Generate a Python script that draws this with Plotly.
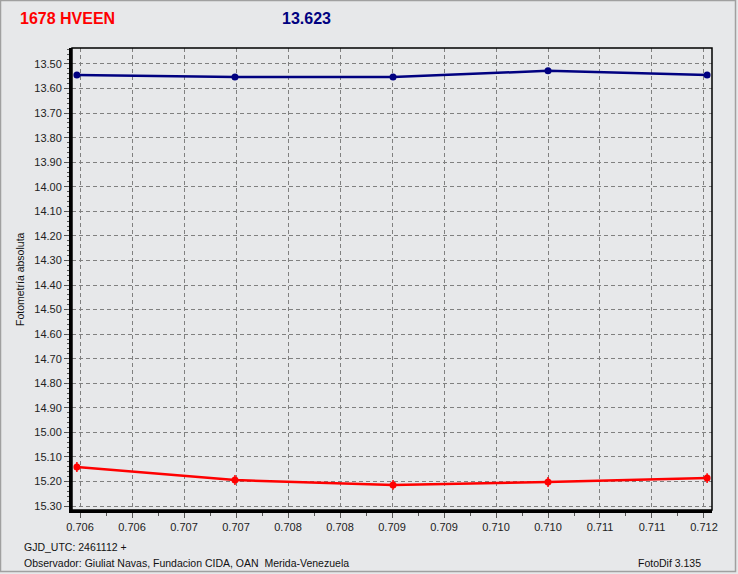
import plotly.graph_objects as go

# ---- data ----
gjd_offsets = [0.70577, 0.70729, 0.70881, 0.71030, 0.71183]
blue_mag = [13.545, 13.553, 13.553, 13.528, 13.545]
blue_err = [0.008, 0.008, 0.008, 0.008, 0.008]
red_mag = [15.141, 15.194, 15.214, 15.202, 15.186]
red_err = [0.02, 0.02, 0.02, 0.02, 0.02]
x_tickvals = [0.70580 + 0.0005 * i for i in range(13)]
x_ticktext = [f"{v:.3f}" for v in x_tickvals]
x_minorvals = [0.70580 + 0.00025 * (2 * i + 1) for i in range(12)]
y_tickvals = [round(13.5 + 0.1 * i, 2) for i in range(19)]
y_ticktext = [f"{v:.2f}" for v in y_tickvals]
y_minorvals = [round(13.44 + 0.02 * i, 2) for i in range(94)]

title_star = "1678 HVEEN"
title_mag = "13.623"
y_title = "Fotometría absoluta"
footer_gjd = "GJD_UTC: 2461112 +"
footer_obs = "Observador: Giuliat Navas, Fundacion CIDA, OAN  Merida-Venezuela"
footer_ver = "FotoDif 3.135"

W, H = 738, 574
L, R, T, B = 72, 712, 48, 510
BG = "#E7E8EA"
FONT = "Liberation Sans"
GRID_DASH = "4px,3px"


def px(x):
    return (x - L) / (R - L)


def py(y):
    return (B - y) / (B - T)


fig = go.Figure()
fig.add_trace(go.Scatter(
    x=gjd_offsets, y=blue_mag, mode="lines+markers",
    line=dict(color="#000080", width=2.5),
    marker=dict(color="#000080", size=7, symbol="circle"),
    error_y=dict(type="data", array=blue_err, color="#000080", thickness=1.5, width=0),
    showlegend=False, cliponaxis=False,
))
fig.add_trace(go.Scatter(
    x=gjd_offsets, y=red_mag, mode="lines+markers",
    line=dict(color="#FF0000", width=2.5),
    marker=dict(color="#FF0000", size=7, symbol="circle"),
    error_y=dict(type="data", array=red_err, color="#FF0000", thickness=1.5, width=0),
    showlegend=False, cliponaxis=False,
))

fig.update_layout(
    width=W, height=H,
    margin=dict(l=L, r=W - R, t=T, b=H - B, pad=0),
    paper_bgcolor=BG, plot_bgcolor=BG,
    font=dict(family=FONT, size=11, color="#222222"),
    hovermode=False,
    xaxis=dict(
        range=[0.705723, 0.711877],
        tickmode="array", tickvals=x_tickvals, ticktext=x_ticktext,
        showgrid=True, gridcolor="#808080", griddash=GRID_DASH, gridwidth=1,
        showline=True, linecolor="black", linewidth=3,
        ticks="outside", ticklen=5, tickcolor="#555555",
        minor=dict(tickmode="array", tickvals=x_minorvals, ticks="outside", ticklen=3,
                   tickcolor="#555555", showgrid=False),
        zeroline=False, tickfont=dict(size=11, color="#222222"),
    ),
    yaxis=dict(
        range=[15.316, 13.435],
        tickmode="array", tickvals=y_tickvals, ticktext=y_ticktext,
        showgrid=True, gridcolor="#808080", griddash=GRID_DASH, gridwidth=1,
        showline=True, linecolor="black", linewidth=3,
        ticks="outside", ticklen=5, tickcolor="#555555",
        minor=dict(tickmode="array", tickvals=y_minorvals, ticks="outside", ticklen=2,
                   tickcolor="#555555", showgrid=False),
        zeroline=False, tickfont=dict(size=11, color="#222222"),
    ),
    shapes=[
        dict(type="rect", xref="paper", yref="paper", x0=0, x1=1, y0=0, y1=1,
             line=dict(color="black", width=1.5), layer="above"),
        dict(type="rect", xref="paper", yref="paper",
             x0=px(0.5), x1=px(735.5), y0=py(571.5), y1=py(0.5),
             line=dict(color="#A0A0A0", width=1.5), layer="below"),
    ],
    annotations=[
        dict(text=f"<b>{title_star}</b>", xref="paper", yref="paper", x=px(18), y=py(18),
             xanchor="left", yanchor="middle", showarrow=False,
             font=dict(family=FONT, size=16, color="#FF0000")),
        dict(text=f"<b>{title_mag}</b>", xref="paper", yref="paper", x=px(280), y=py(18),
             xanchor="left", yanchor="middle", showarrow=False,
             font=dict(family=FONT, size=16, color="#000080")),
        dict(text=y_title, xref="paper", yref="paper", x=px(20), y=py(279),
             xanchor="center", yanchor="middle", textangle=-90, showarrow=False,
             font=dict(family=FONT, size=10.5, color="#111111")),
        dict(text=footer_gjd, xref="paper", yref="paper", x=px(22), y=py(547),
             xanchor="left", yanchor="middle", showarrow=False,
             font=dict(family=FONT, size=10.5, color="#111111")),
        dict(text=footer_obs, xref="paper", yref="paper", x=px(22), y=py(563),
             xanchor="left", yanchor="middle", showarrow=False,
             font=dict(family=FONT, size=10.5, color="#111111")),
        dict(text=footer_ver, xref="paper", yref="paper", x=px(703), y=py(563),
             xanchor="right", yanchor="middle", showarrow=False,
             font=dict(family=FONT, size=10.5, color="#111111")),
    ],
)

fig.write_html("out.html", config={"displayModeBar": False},
               post_script="document.body.style.margin='0';document.body.style.overflow='hidden';")
